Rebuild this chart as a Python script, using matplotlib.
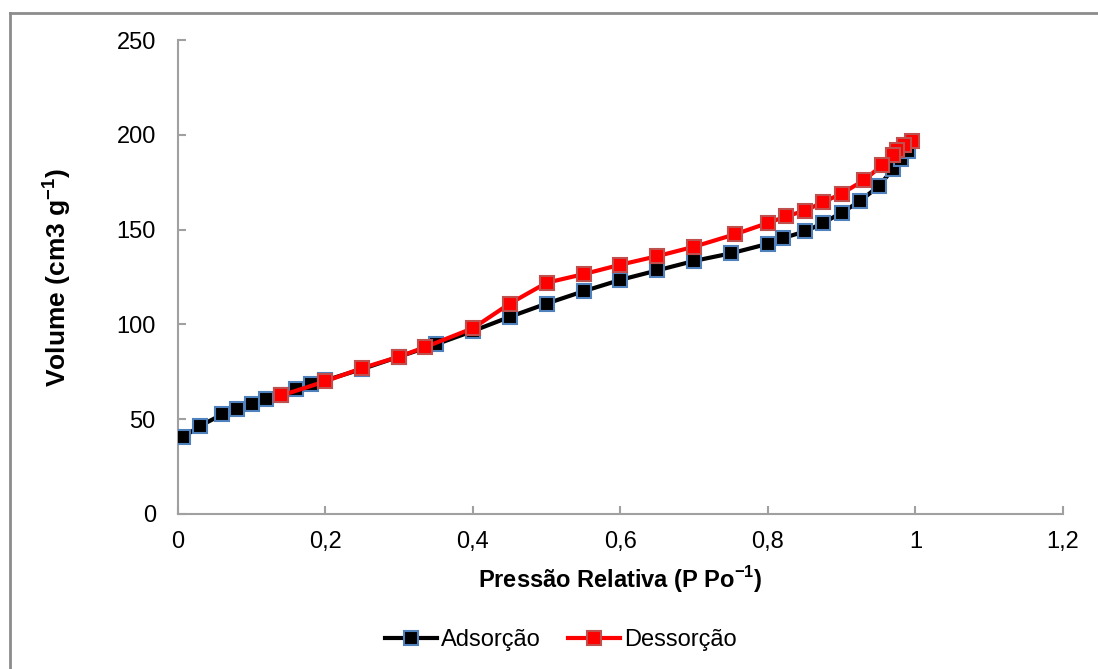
import matplotlib
matplotlib.use('Agg')
import matplotlib.pyplot as plt
from matplotlib.ticker import FuncFormatter, MultipleLocator
from matplotlib.lines import Line2D

plt.rcParams['font.family'] = ['Liberation Sans', 'DejaVu Sans']
plt.rcParams['mathtext.fontset'] = 'custom'
plt.rcParams['mathtext.rm'] = 'Liberation Sans'
plt.rcParams['mathtext.bf'] = 'Liberation Sans:bold'

# Isotherm data (relative pressure vs adsorbed volume)
p_ads = [0.007, 0.03, 0.06, 0.08, 0.10, 0.12, 0.14, 0.16, 0.18, 0.20, 0.25, 0.30,
         0.35, 0.40, 0.45, 0.50, 0.55, 0.60, 0.65, 0.70, 0.75, 0.80, 0.82, 0.85,
         0.875, 0.90, 0.925, 0.95, 0.97, 0.98, 0.99]
v_ads = [40.5, 46.5, 52.5, 55.5, 58.0, 60.5, 63.0, 66.0, 68.5, 70.5, 76.5, 83.0,
         89.5, 96.5, 104.0, 111.0, 117.5, 123.5, 128.5, 133.5, 137.5, 142.5, 145.5, 149.0,
         153.5, 159.0, 165.0, 173.0, 182.0, 187.0, 191.5]

p_des = [0.995, 0.985, 0.975, 0.97, 0.955, 0.93, 0.90, 0.875, 0.85, 0.825, 0.80, 0.755,
         0.70, 0.65, 0.60, 0.55, 0.50, 0.45, 0.40, 0.335, 0.30, 0.25, 0.20, 0.14]
v_des = [196.5, 194.5, 192.0, 189.5, 184.0, 176.0, 169.0, 164.5, 160.0, 157.0, 153.5, 147.5,
         141.0, 136.0, 131.5, 126.5, 122.0, 111.0, 98.0, 88.0, 83.0, 77.0, 70.0, 62.5]

fig = plt.figure(figsize=(10.98, 6.69), dpi=100)
ax = fig.add_axes([0.1621, 0.2317, 0.9681 - 0.1621, 0.9402 - 0.2317])

# outer chart border
fig.add_artist(Line2D([10 / 1098, 10 / 1098], [0, 1 - 13 / 669], transform=fig.transFigure,
                      color='#8c8c8c', lw=2))
fig.add_artist(Line2D([10 / 1098, 1], [1 - 13 / 669, 1 - 13 / 669], transform=fig.transFigure,
                      color='#8c8c8c', lw=2))

ax.plot(p_ads, v_ads, color='black', lw=3, marker='s', markersize=9.5,
        markerfacecolor='black', markeredgecolor='#4F81BD', markeredgewidth=1.5,
        label='Adsorção', zorder=3)
ax.plot(p_des, v_des, color='#FF0000', lw=3, marker='s', markersize=9.5,
        markerfacecolor='#FF0000', markeredgecolor='#C0504D', markeredgewidth=1.5,
        label='Dessorção', zorder=4)

ax.set_xlim(0, 1.2)
ax.set_ylim(0, 250)
ax.xaxis.set_major_locator(MultipleLocator(0.2))
ax.yaxis.set_major_locator(MultipleLocator(50))
ax.xaxis.set_major_formatter(FuncFormatter(lambda v, p: f'{v:g}'.replace('.', ',')))

for s in ['top', 'right']:
    ax.spines[s].set_visible(False)
for s in ['left', 'bottom']:
    ax.spines[s].set_color('#a0a0a0')
    ax.spines[s].set_linewidth(1.5)
ax.tick_params(axis='both', colors='#a0a0a0', labelcolor='black', labelsize=17,
               length=6, width=1.5, direction='in')
ax.tick_params(axis='y', pad=16)
ax.tick_params(axis='x', pad=12)

ax.set_xlabel(r'Pressão Relativa (P Po$^{\mathbf{-1}}$)', fontsize=17, fontweight='bold', labelpad=8)
ax.set_ylabel(r'Volume (cm3 g$^{\mathbf{-1}}$)', fontsize=19, fontweight='bold', labelpad=31)

fig.legend(loc='center', bbox_to_anchor=(561 / 1098, 1 - 640 / 669), ncol=2, frameon=False,
           fontsize=17, handlelength=2.2, handletextpad=0.17, columnspacing=1.15)

fig.savefig('out.png', dpi=100)
